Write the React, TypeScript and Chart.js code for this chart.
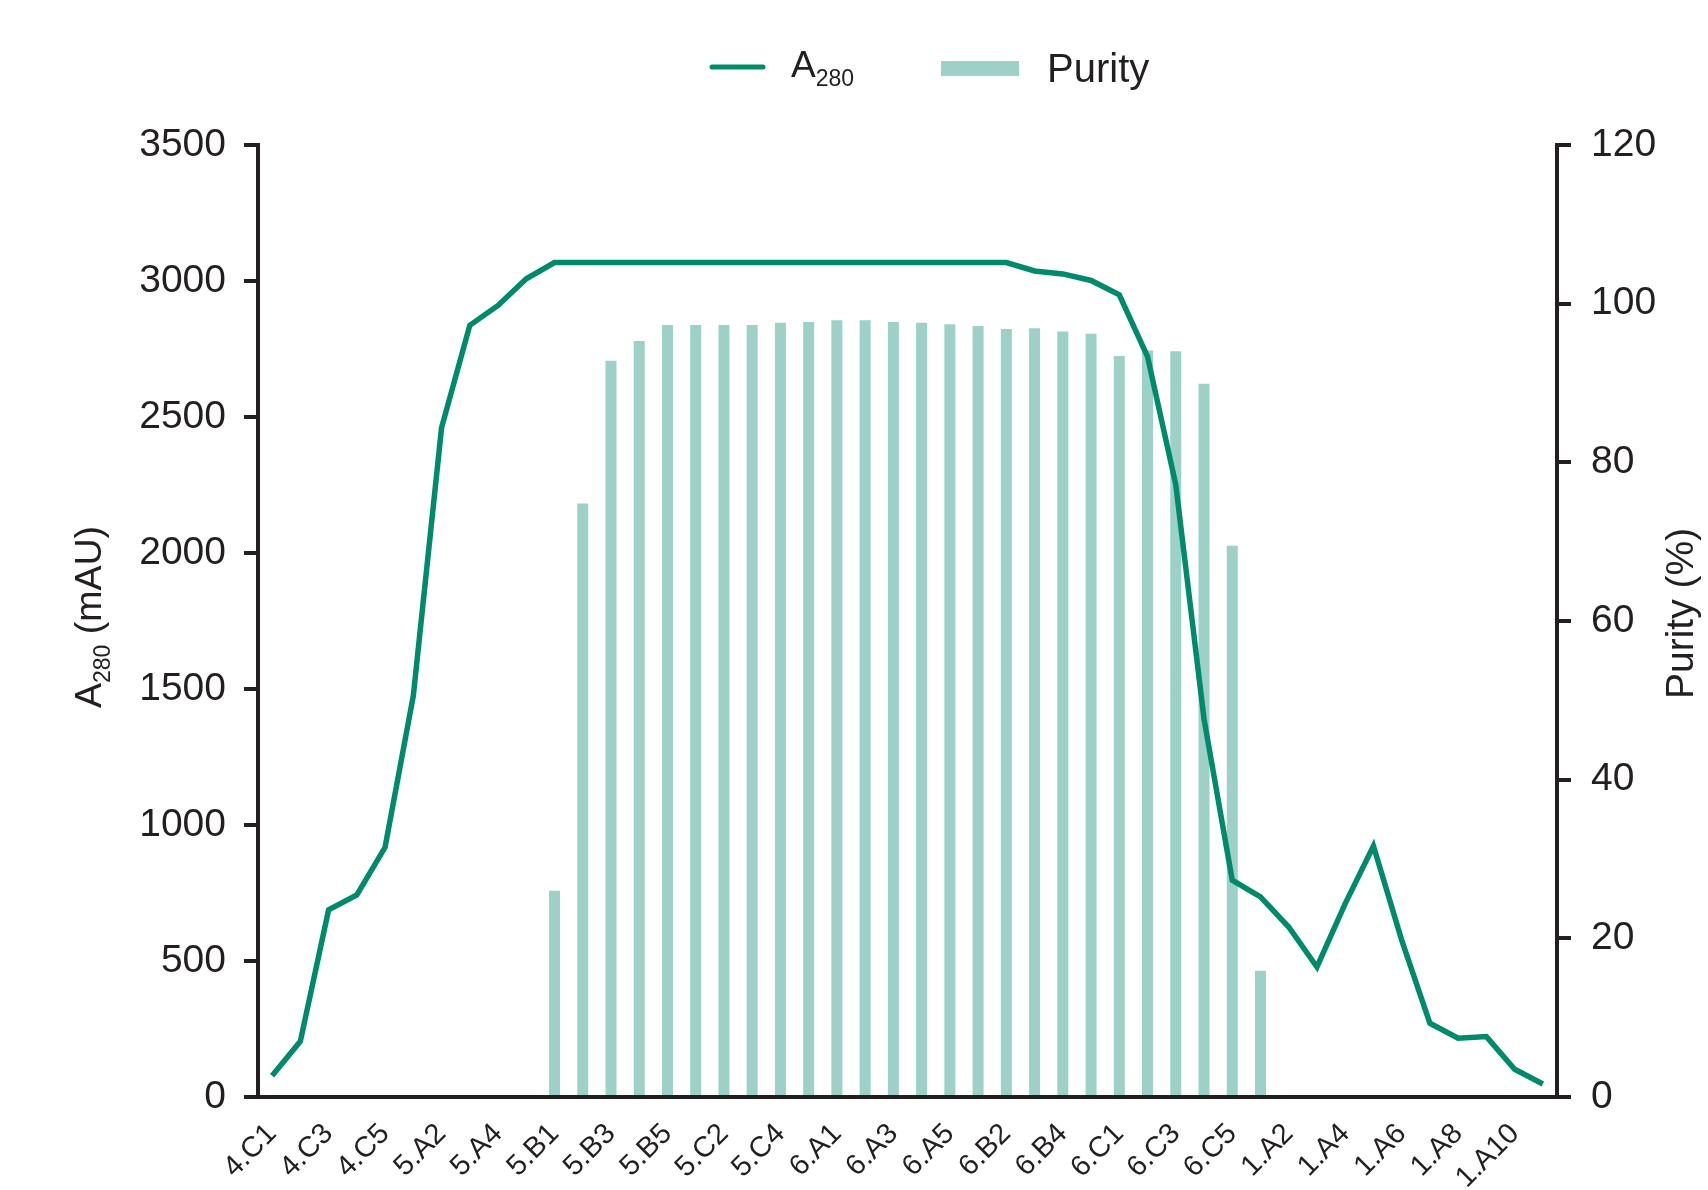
import React, { useEffect, useRef } from 'react';
import { Chart, registerables } from 'chart.js';

Chart.register(...registerables);

// Fraction wells in collection order
const fractions = [
  '4.C1', '4.C2', '4.C3', '4.C4', '4.C5',
  '5.A1', '5.A2', '5.A3', '5.A4', '5.A5',
  '5.B1', '5.B2', '5.B3', '5.B4', '5.B5',
  '5.C1', '5.C2', '5.C3', '5.C4', '5.C5',
  '6.A1', '6.A2', '6.A3', '6.A4', '6.A5',
  '6.B1', '6.B2', '6.B3', '6.B4', '6.B5',
  '6.C1', '6.C2', '6.C3', '6.C4', '6.C5',
  '1.A1', '1.A2', '1.A3', '1.A4', '1.A5', '1.A6',
  '1.A7', '1.A8', '1.A9', '1.A10', '1.A11',
];

// A280 per fraction (mAU)
const a280 = [
  78, 205, 688, 743, 918,
  1475, 2460, 2837, 2910, 3008,
  3068, 3068, 3068, 3068, 3068,
  3068, 3068, 3068, 3068, 3068,
  3068, 3068, 3068, 3068, 3068,
  3068, 3068, 3037, 3026, 3002,
  2949, 2722, 2251, 1390, 797,
  736, 625, 478, 711, 923, 577,
  271, 216, 222, 102, 48,
];

// Purity per fraction (%), only analysed fractions
const purity = [
  null, null, null, null, null,
  null, null, null, null, null,
  26.0, 74.8, 92.8, 95.3, 97.3,
  97.3, 97.3, 97.3, 97.6, 97.7,
  97.9, 97.9, 97.7, 97.6, 97.4,
  97.2, 96.8, 96.9, 96.5, 96.2,
  93.4, 94.1, 94.0, 89.9, 69.5,
  15.9, null, null, null, null, null,
  null, null, null, null, null,
];

const a280Ticks = [0, 500, 1000, 1500, 2000, 2500, 3000, 3500];
const purityTicks = [0, 20, 40, 60, 80, 100, 120];

const LINE_COLOR = '#008a6c';
const BAR_COLOR = '#9dd0c6';
const INK = '#231f20';
const FONT = '"Liberation Sans", Arial, sans-serif';

const annotations = {
  id: 'annotations',
  afterDraw(chart: any) {
    const ctx = chart.ctx as CanvasRenderingContext2D;
    ctx.save();
    ctx.fillStyle = INK;
    ctx.textAlign = 'left';
    ctx.textBaseline = 'alphabetic';

    // Left axis title: A280 (mAU)
    ctx.save();
    ctx.translate(101, 708);
    ctx.rotate(-Math.PI / 2);
    ctx.font = `37.5px ${FONT}`;
    ctx.fillText('A', 0, 0);
    let w = ctx.measureText('A').width;
    ctx.font = `23px ${FONT}`;
    ctx.fillText('280', w, 9);
    w += ctx.measureText('280').width;
    ctx.font = `37.5px ${FONT}`;
    ctx.fillText(' (mAU)', w, 0);
    ctx.restore();

    // Right axis title
    ctx.save();
    ctx.translate(1693, 699);
    ctx.rotate(-Math.PI / 2);
    ctx.font = `39px ${FONT}`;
    ctx.fillText('Purity (%)', 0, 0);
    ctx.restore();

    // Legend
    ctx.strokeStyle = LINE_COLOR;
    ctx.lineWidth = 5;
    ctx.lineCap = 'round';
    ctx.beginPath();
    ctx.moveTo(712, 67);
    ctx.lineTo(763, 67);
    ctx.stroke();
    ctx.font = `37px ${FONT}`;
    ctx.fillText('A', 791, 77);
    const aw = ctx.measureText('A').width;
    ctx.font = `23px ${FONT}`;
    ctx.fillText('280', 791 + aw, 86);

    ctx.fillStyle = BAR_COLOR;
    ctx.fillRect(941, 61, 78, 15);
    ctx.fillStyle = INK;
    ctx.font = `40px ${FONT}`;
    ctx.fillText('Purity', 1047, 82);
    ctx.restore();
  },
};

export default function App() {
  const canvasRef = useRef<HTMLCanvasElement | null>(null);

  useEffect(() => {
    if (!canvasRef.current) return;
    const chart = new Chart(canvasRef.current, {
      type: 'bar',
      data: {
        labels: fractions,
        datasets: [
          {
            type: 'line',
            label: 'A280',
            data: a280,
            yAxisID: 'y',
            borderColor: LINE_COLOR,
            backgroundColor: LINE_COLOR,
            borderWidth: 5.5,
            pointRadius: 0,
            tension: 0,
            order: 1,
          },
          {
            type: 'bar',
            label: 'Purity',
            data: purity,
            yAxisID: 'y1',
            backgroundColor: BAR_COLOR,
            borderWidth: 0,
            barPercentage: 0.39,
            categoryPercentage: 1,
            order: 2,
          },
        ],
      },
      options: {
        responsive: false,
        devicePixelRatio: 1,
        animation: false,
        layout: { padding: { top: 145, left: 0, right: 0, bottom: 0 } },
        plugins: {
          legend: { display: false },
          tooltip: { enabled: false },
        },
        scales: {
          x: {
            type: 'category',
            offset: true,
            grid: { display: false, drawTicks: false },
            border: { display: true, color: INK, width: 4 },
            ticks: {
              autoSkip: false,
              maxRotation: 45,
              minRotation: 45,
              padding: 20,
              color: INK,
              font: { family: FONT, size: 29 },
              callback: (_v: any, i: number) => (i % 2 === 0 ? fractions[i] : ''),
            },
            afterFit: (s: any) => { s.height = 93; },
          },
          y: {
            position: 'left',
            min: 0,
            max: 3500,
            afterBuildTicks: (s: any) => { s.ticks = a280Ticks.map((v) => ({ value: v })); },
            grid: { drawOnChartArea: false, drawTicks: true, tickLength: 14, color: INK, lineWidth: 4 },
            border: { display: true, color: INK, width: 4 },
            ticks: {
              padding: 18,
              color: INK,
              font: { family: FONT, size: 39 },
              callback: (v: any) => String(v),
            },
            afterFit: (s: any) => { s.width = 258; },
          },
          y1: {
            position: 'right',
            min: 0,
            max: 120,
            afterBuildTicks: (s: any) => { s.ticks = purityTicks.map((v) => ({ value: v })); },
            grid: { drawOnChartArea: false, drawTicks: true, tickLength: 14, color: INK, lineWidth: 4 },
            border: { display: true, color: INK, width: 4 },
            ticks: {
              padding: 20,
              color: INK,
              font: { family: FONT, size: 39 },
              callback: (v: any) => String(v),
            },
            afterFit: (s: any) => { s.width = 151; },
          },
        },
      },
      plugins: [annotations],
    });
    return () => chart.destroy();
  }, []);

  return (
    <div style={{ position: 'fixed', left: 0, top: 0, width: 1708, height: 1190, background: '#fff' }}>
      <canvas ref={canvasRef} width={1708} height={1190} style={{ display: 'block' }} />
    </div>
  );
}
